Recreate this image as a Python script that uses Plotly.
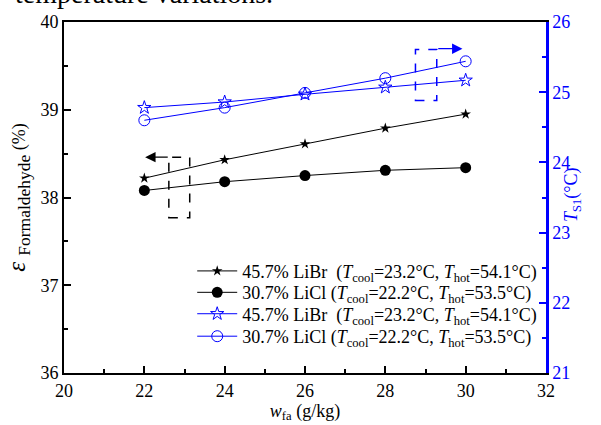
import plotly.graph_objects as go

w_fa = [22, 24, 26, 28, 30]
eps_libr = [38.22, 38.43, 38.61, 38.79, 38.95]
eps_licl = [38.08, 38.18, 38.25, 38.31, 38.34]
ts1_libr = [24.78, 24.86, 24.97, 25.07, 25.17]
ts1_licl = [24.60, 24.78, 24.99, 25.20, 25.44]

lab_libr = "45.7% LiBr  (<i>T</i><sub>cool</sub>=23.2°C, <i>T</i><sub>hot</sub>=54.1°C)"
lab_licl = "30.7% LiCl (<i>T</i><sub>cool</sub>=22.2°C, <i>T</i><sub>hot</sub>=53.5°C)"

FONT = "Liberation Serif"
BLUE = "#0000ff"

fig = go.Figure()
fig.add_trace(go.Scatter(x=w_fa, y=eps_libr, mode="lines+markers", name=lab_libr, legend="legend",
                         line=dict(color="black", width=1),
                         marker=dict(symbol="star", size=8, color="black")))
fig.add_trace(go.Scatter(x=w_fa, y=eps_licl, mode="lines+markers", name=lab_licl, legend="legend2",
                         line=dict(color="black", width=1),
                         marker=dict(symbol="circle", size=11, color="black")))
fig.add_trace(go.Scatter(x=w_fa, y=ts1_libr, mode="lines+markers", name=lab_libr, yaxis="y2", legend="legend3",
                         line=dict(color=BLUE, width=1),
                         marker=dict(symbol="star-open", size=10, color=BLUE, line=dict(width=1))))
fig.add_trace(go.Scatter(x=w_fa, y=ts1_licl, mode="lines+markers", name=lab_licl, yaxis="y2", legend="legend4",
                         line=dict(color=BLUE, width=1),
                         marker=dict(symbol="circle-open", size=11, color=BLUE, line=dict(width=1))))

# dashed indicator boxes
fig.add_shape(type="rect", xref="x", yref="y", x0=22.61, x1=23.13, y0=37.77, y1=38.46,
              line=dict(color="black", width=1.5, dash="dash"))
fig.add_shape(type="rect", xref="x", yref="y2", x0=28.75, x1=29.28, y0=24.88, y1=25.61,
              line=dict(color=BLUE, width=1.5, dash="dash"))
fig.add_annotation(x=22.02, y=38.46, ax=22.62, ay=38.46, xref="x", yref="y", axref="x", ayref="y",
                   showarrow=True, arrowhead=2, arrowsize=1.6, arrowwidth=1.3, arrowcolor="black", text="")
fig.add_annotation(x=29.92, y=25.62, ax=29.28, ay=25.62, xref="x", yref="y2", axref="x", ayref="y2",
                   showarrow=True, arrowhead=2, arrowsize=1.6, arrowwidth=1.3, arrowcolor=BLUE, text="")

# clipped caption text at top
fig.add_annotation(text="temperature variations.", xref="paper", yref="paper", x=-0.106, y=1.0,
                   yshift=11, xanchor="left", yanchor="bottom", showarrow=False,
                   font=dict(family=FONT, size=28, color="black"))

# right axis title
fig.add_annotation(text="<i>T</i><sub>S1</sub>(°C)", xref="paper", yref="paper", x=1.056, y=0.51,
                   xanchor="center", yanchor="middle", textangle=-90, showarrow=False,
                   font=dict(family=FONT, size=18, color=BLUE))

def leg(ypos):
    return dict(x=0.266, y=ypos, xanchor="left", yanchor="middle", bgcolor="rgba(0,0,0,0)",
                font=dict(family=FONT, size=18), itemwidth=40)

fig.update_layout(
    width=601, height=425,
    margin=dict(l=64, r=55, t=19, b=46),
    paper_bgcolor="white", plot_bgcolor="white",
    font=dict(family=FONT, size=18, color="black"),
    showlegend=True,
    legend=leg(0.290), legend2=leg(0.229), legend3=leg(0.168), legend4=leg(0.104),
    xaxis=dict(range=[20, 32], tickmode="array", tickvals=[20, 22, 24, 26, 28, 30, 32],
               ticks="inside", ticklen=7, tickwidth=2, tickcolor="black",
               minor=dict(tickvals=[21, 23, 25, 27, 29, 31], ticks="inside", ticklen=4, tickwidth=2, tickcolor="black"),
               showline=True, linecolor="black", linewidth=2, mirror=True, showgrid=False, zeroline=False,
               tickfont=dict(family=FONT, size=18),
               title=dict(text="<i>w</i><sub>fa</sub> (g/kg)", font=dict(family=FONT, size=18), standoff=0)),
    yaxis=dict(range=[36, 40], tickmode="array", tickvals=[36, 37, 38, 39, 40],
               ticks="inside", ticklen=7, tickwidth=2, tickcolor="black",
               minor=dict(tickvals=[36.5, 37.5, 38.5, 39.5], ticks="inside", ticklen=4, tickwidth=2, tickcolor="black"),
               showline=True, linecolor="black", linewidth=2, showgrid=False, zeroline=False,
               tickfont=dict(family=FONT, size=18),
               title=dict(text="<span style=\"font-size:25px\"><i>ε</i> <sub>Formaldehyde</sub></span> (%)",
                          font=dict(family=FONT, size=18), standoff=10)),
    yaxis2=dict(range=[21, 26], overlaying="y", side="right", tickmode="array",
                tickvals=[21, 22, 23, 24, 25, 26],
                ticks="inside", ticklen=7, tickwidth=2, tickcolor=BLUE,
                minor=dict(tickvals=[21.5, 22.5, 23.5, 24.5, 25.5], ticks="inside", ticklen=4, tickwidth=2, tickcolor=BLUE),
                showline=True, linecolor=BLUE, linewidth=2.5, showgrid=False, zeroline=False,
                tickfont=dict(family=FONT, size=18, color=BLUE)),
)

fig.write_html("out.html")
